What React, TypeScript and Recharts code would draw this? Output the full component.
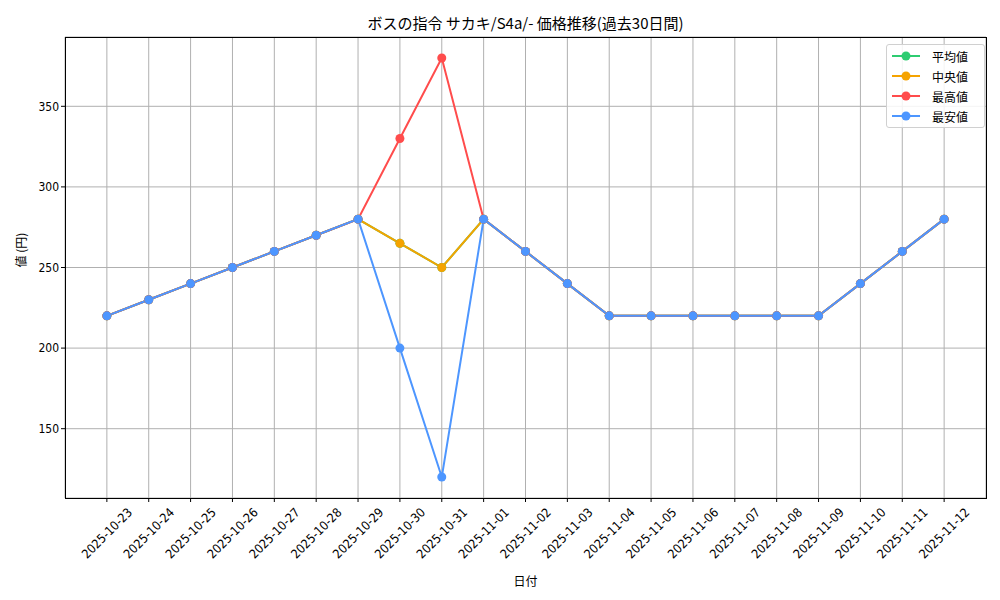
import { LineChart, Line, XAxis, YAxis, CartesianGrid } from 'recharts'

const dates = [
  '2025-10-23', '2025-10-24', '2025-10-25', '2025-10-26', '2025-10-27', '2025-10-28', '2025-10-29',
  '2025-10-30', '2025-10-31', '2025-11-01', '2025-11-02', '2025-11-03', '2025-11-04', '2025-11-05',
  '2025-11-06', '2025-11-07', '2025-11-08', '2025-11-09', '2025-11-10', '2025-11-11', '2025-11-12',
]
const meanValues = [220, 230, 240, 250, 260, 270, 280, 265, 250, 280, 260, 240, 220, 220, 220, 220, 220, 220, 240, 260, 280]
const medianValues = [220, 230, 240, 250, 260, 270, 280, 265, 250, 280, 260, 240, 220, 220, 220, 220, 220, 220, 240, 260, 280]
const maxValues = [220, 230, 240, 250, 260, 270, 280, 330, 380, 280, 260, 240, 220, 220, 220, 220, 220, 220, 240, 260, 280]
const minValues = [220, 230, 240, 250, 260, 270, 280, 200, 120, 280, 260, 240, 220, 220, 220, 220, 220, 220, 240, 260, 280]
const yTicks = [150, 200, 250, 300, 350]

const SERIES = [
  { key: 'mean', name: '平均値', color: '#2ecc71' },
  { key: 'median', name: '中央値', color: '#f5a300' },
  { key: 'max', name: '最高値', color: '#ff4c4c' },
  { key: 'min', name: '最安値', color: '#4d96ff' },
]

const FONT = '"Noto Sans CJK JP", "DejaVu Sans", sans-serif'
const NUM_FONT = '"DejaVu Sans Condensed", "DejaVu Sans", sans-serif'

// plot frame (matches chart margins below)
const PLOT = { left: 65, top: 37, width: 921, height: 461 }

const data = dates.map((d, i) => ({
  idx: i,
  date: d,
  mean: meanValues[i],
  median: medianValues[i],
  max: maxValues[i],
  min: minValues[i],
}))

// rotated label, centred under its tick like matplotlib's rotation=45
function DateTick({ x, payload }: any) {
  const cy = PLOT.top + PLOT.height + 35
  return (
    <text
      x={x}
      y={cy}
      transform={`rotate(-45, ${x}, ${cy})`}
      textAnchor="middle"
      dominantBaseline="central"
      fontSize={12.5}
      fontFamily={NUM_FONT}
      fontStretch="condensed"
      fill="#000"
    >
      {dates[payload.value]}
    </text>
  )
}

function LegendBox() {
  return (
    <div style={{
      position: 'absolute',
      top: 44,
      left: 886,
      background: 'rgba(255,255,255,0.85)',
      border: '1px solid #d0d0d0',
      borderRadius: 3,
      padding: '1px 4px 1px 4px',
      fontFamily: FONT,
      fontSize: 12,
      width: 89,
    }}>
      {SERIES.map((s) => (
        <div key={s.key} style={{ display: 'flex', alignItems: 'center', height: 20 }}>
          <svg width={30} height={12} style={{ marginRight: 11 }}>
            <line x1={1} y1={6} x2={29} y2={6} stroke={s.color} strokeWidth={2} />
            <circle cx={15} cy={6} r={4.5} fill={s.color} />
          </svg>
          <span>{s.name}</span>
        </div>
      ))}
    </div>
  )
}

export default function App() {
  return (
    <div style={{ position: 'absolute', top: 0, left: 0, width: 1000, height: 600, background: '#fff' }}>
      <div style={{
        position: 'absolute',
        top: 12,
        left: PLOT.left,
        width: PLOT.width,
        textAlign: 'center',
        fontFamily: FONT,
        fontSize: 15,
        color: '#000',
      }}>
        ボスの指令 サカキ/S4a/- 価格推移(過去30日間)
      </div>
      <LineChart width={1000} height={600} data={data} margin={{ top: 37, right: 14, bottom: 0, left: 0 }}>
        <CartesianGrid stroke="#b0b0b0" strokeWidth={1} />
        <XAxis
          dataKey="idx"
          type="number"
          domain={[-1, 21]}
          ticks={dates.map((_, i) => i)}
          interval={0}
          height={102}
          tick={<DateTick />}
          tickLine={{ stroke: '#000' }}
          tickSize={4}
          axisLine={false}
          allowDataOverflow
          label={{ value: '日付', position: 'insideBottom', offset: 14, fontSize: 12, fontFamily: FONT, fill: '#000' }}
        />
        <YAxis
          type="number"
          domain={[107, 393]}
          ticks={yTicks}
          width={65}
          allowDataOverflow
          tick={{ fontSize: 12, fontFamily: NUM_FONT, fill: '#000' }}
          tickLine={{ stroke: '#000' }}
          tickSize={4}
          axisLine={false}
          label={{ value: '値 (円)', angle: -90, position: 'insideLeft', offset: 22, fontSize: 12, fontFamily: FONT, fill: '#000' }}
        />
        {SERIES.map((s) => (
          <Line
            key={s.key}
            type="linear"
            dataKey={s.key}
            name={s.name}
            stroke={s.color}
            strokeWidth={2}
            dot={{ r: 4.5, fill: s.color, stroke: s.color, strokeWidth: 0 }}
            activeDot={false}
            isAnimationActive={false}
          />
        ))}
      </LineChart>
      <div style={{
        position: 'absolute',
        boxSizing: 'border-box',
        left: PLOT.left,
        top: PLOT.top,
        width: PLOT.width + 1,
        height: PLOT.height + 1,
        border: '1px solid #000',
        pointerEvents: 'none',
      }} />
      <LegendBox />
    </div>
  )
}
